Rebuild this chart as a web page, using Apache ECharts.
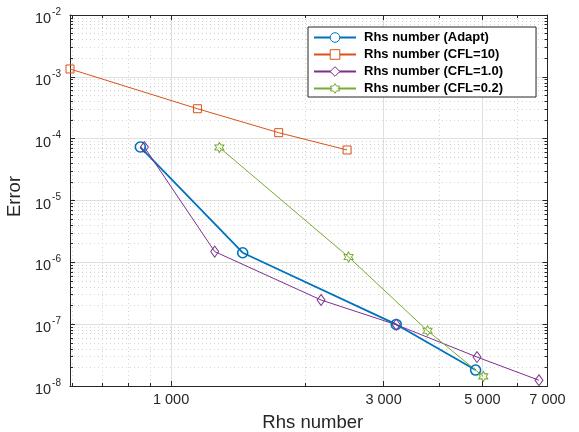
<!DOCTYPE html>
<html>
<head>
<meta charset="utf-8">
<script src="https://cdn.jsdelivr.net/npm/echarts@6/dist/echarts.min.js"></script>
<style>html,body{margin:0;padding:0;background:#fff}#c{width:579px;height:432px}</style>
</head>
<body>
<div id="c"></div>
<script>
const adaptX = [853, 1448, 3203, 4827];
const adaptY = [7.33e-5, 1.43e-6, 9.9e-8, 1.81e-8];
const cfl10X = [593, 1146, 1744, 2484];
const cfl10Y = [1.34e-3, 3.05e-4, 1.25e-4, 6.56e-5];
const cfl1X = [871, 1253, 2171, 3203, 4862, 6697];
const cfl1Y = [7.3e-5, 1.49e-6, 2.46e-7, 9.8e-8, 2.94e-8, 1.24e-8];
const cfl02X = [1284, 2503, 3766, 5022];
const cfl02Y = [7.2e-5, 1.22e-6, 7.83e-8, 1.43e-8];
const seriesNames = ['Rhs number (Adapt)', 'Rhs number (CFL=10)', 'Rhs number (CFL=1.0)', 'Rhs number (CFL=0.2)'];
const seriesColors = ['#0072BD', '#D95319', '#7E2F8E', '#77AC30'];
const xMajor = [1000, 3000, 5000, 7000];
const xMinor = [600, 700, 800, 900, 2000, 4000, 6000];
const yMajor = [1e-8, 1e-7, 1e-6, 1e-5, 1e-4, 1e-3, 1e-2];
const yMinor = [];
for (let e = -8; e < -2; e++) for (let m = 2; m <= 9; m++) yMinor.push(Number((m * Math.pow(10, e)).toPrecision(3)));
const xMin = 593, xMax = 7000, yMin = 1e-8, yMax = 1e-2;

const FONT = '"Liberation Sans", Arial, Helvetica, sans-serif';
const AX = '#262626';
const hexagram = 'path://M100 0 L128.87 50 L186.6 50 L157.7 100 L186.6 150 L128.87 150 L100 200 L71.13 150 L13.4 150 L42.3 100 L13.4 50 L71.13 50 Z';

function zip(xs, ys) { return xs.map((x, i) => [x, ys[i]]); }
function fmtX(v) { return String(Math.round(v)).replace(/\B(?=(\d{3})+(?!\d))/g, ' '); }

function xAx(pos, ticks, len, showLabel, split, showLine) {
  return {
    type: 'log', logBase: 10, min: xMin, max: xMax, position: pos,
    axisLine: { show: showLine, lineStyle: { color: AX, width: 1 } },
    axisTick: { show: true, inside: true, length: len, customValues: ticks, lineStyle: { color: AX, width: 1 } },
    axisLabel: { show: showLabel, customValues: ticks, formatter: fmtX, color: AX, fontFamily: FONT, fontSize: 14.5, margin: 6 },
    splitLine: split,
    minorTick: { show: false }, minorSplitLine: { show: false }
  };
}
function yAx(pos, ticks, len, showLabel, split, showLine) {
  return {
    type: 'log', logBase: 10, min: yMin, max: yMax, position: pos,
    axisLine: { show: showLine, lineStyle: { color: AX, width: 1 } },
    axisTick: { show: true, inside: true, length: len, customValues: ticks, lineStyle: { color: AX, width: 1 } },
    axisLabel: {
      show: showLabel, customValues: ticks, margin: 9,
      formatter: v => '{b|10}{s|' + Math.round(Math.log10(v)) + '}',
      rich: {
        b: { fontSize: 14.5, color: AX, fontFamily: FONT, padding: [8, 0, 0, 0] },
        s: { fontSize: 10, color: AX, fontFamily: FONT, padding: [0, 0, 6, 1] }
      }
    },
    splitLine: split,
    minorTick: { show: false }, minorSplitLine: { show: false }
  };
}
const majorSplit = { show: true, lineStyle: { color: '#dfdfdf', width: 1, type: 'solid' } };
const minorSplit = { show: true, lineStyle: { color: '#d4d4d4', width: 1, type: [1, 3] } };
const noSplit = { show: false };

const xAxes = [
  Object.assign(xAx('bottom', xMajor, 5, true, majorSplit, true), { name: 'Rhs number', nameLocation: 'middle', nameGap: 27, nameTextStyle: { fontSize: 18.5, color: AX, fontFamily: FONT, padding: [0, 0, 0, 8] } }),
  xAx('top', xMajor, 5, false, noSplit, true),
  xAx('bottom', xMinor, 3, false, minorSplit, false),
  xAx('top', xMinor, 3, false, noSplit, false)
];
const yAxes = [
  Object.assign(yAx('left', yMajor, 5, true, majorSplit, true), { name: 'Error', nameLocation: 'middle', nameGap: 38, nameRotate: 90, nameTextStyle: { fontSize: 18.5, color: AX, fontFamily: FONT, padding: [0, 0, 0, 8] } }),
  yAx('right', yMajor, 5, false, noSplit, true),
  yAx('left', yMinor, 3, false, minorSplit, false),
  yAx('right', yMinor, 3, false, noSplit, false)
];

function mk(name, data, color, symbol, size, lw, bw) {
  return {
    name, type: 'line', data, xAxisIndex: 0, yAxisIndex: 0,
    symbol, symbolSize: size, showAllSymbol: true, clip: false, z: 5,
    lineStyle: { color, width: lw },
    itemStyle: { color: 'none', borderColor: color, borderWidth: bw },
    emphasis: { disabled: true }
  };
}

const chart = echarts.init(document.getElementById('c'), null, { renderer: 'canvas' });
chart.setOption({
  animation: false,
  backgroundColor: '#fff',
  grid: { left: 70, right: 31.5, top: 15, bottom: 46, containLabel: false, outerBoundsMode: 'none' },
  xAxis: xAxes,
  yAxis: yAxes,
  legend: {
    orient: 'vertical', left: 308, top: 27,
    padding: [4, 33, 2, 5], itemWidth: 42, itemHeight: 12, itemGap: 4,
    backgroundColor: '#fff', borderColor: AX, borderWidth: 1,
    textStyle: { fontFamily: FONT, fontSize: 13, lineHeight: 13, fontWeight: 'bold', color: '#000', padding: [0, 0, 0, 3] },
    data: seriesNames.map((n, i) => ({ name: n, itemStyle: { color: '#fff', borderColor: seriesColors[i], borderWidth: 1 } }))
  },
  series: [
    mk(seriesNames[0], zip(adaptX, adaptY), seriesColors[0], 'circle', 10, 1.8, 1.6),
    mk(seriesNames[1], zip(cfl10X, cfl10Y), seriesColors[1], 'rect', 8, 1, 1),
    mk(seriesNames[2], zip(cfl1X, cfl1Y), seriesColors[2], 'diamond', [8, 11], 1, 1),
    mk(seriesNames[3], zip(cfl02X, cfl02Y), seriesColors[3], hexagram, [9, 10], 1, 1)
  ]
});
</script>
</body>
</html>
